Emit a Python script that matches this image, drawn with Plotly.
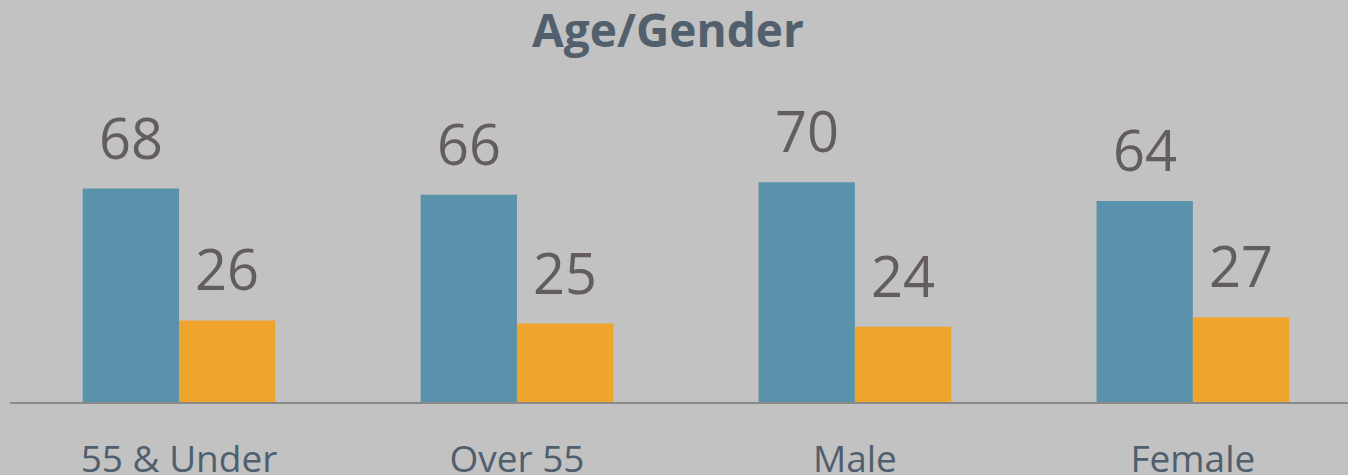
import plotly.graph_objects as go

categories = ["55 & Under", "Over 55", "Male", "Female"]
series_a = [68, 66, 70, 64]
series_b = [26, 25, 24, 27]

blue = "#5a92ab"
orange = "#efa42d"
label_color = "#645d5e"
tick_color = "#505f6e"
bg = "#c2c2c2"

fig = go.Figure()
fig.add_trace(go.Bar(x=categories, y=series_a, marker_color=blue, marker_line_width=0, name="A"))
fig.add_trace(go.Bar(x=categories, y=series_b, marker_color=orange, marker_line_width=0, name="B"))

for cat, v in zip(categories, series_a):
    fig.add_annotation(x=cat, y=v, text=str(v), showarrow=False, xshift=-48, yshift=12,
                       yanchor="bottom", font=dict(size=56, color=label_color, family="Open Sans"))
for cat, v in zip(categories, series_b):
    fig.add_annotation(x=cat, y=v, text=str(v), showarrow=False, xshift=48, yshift=12,
                       yanchor="bottom", font=dict(size=56, color=label_color, family="Open Sans"))

fig.update_layout(
    width=1348, height=475,
    margin=dict(l=10, r=0, t=100, b=73, autoexpand=False),
    paper_bgcolor=bg, plot_bgcolor=bg,
    barmode="group", bargap=0.43, bargroupgap=0,
    showlegend=False,
    title=dict(text="<b>Age/Gender</b>", x=0.4955, xanchor="center", y=0.935, yanchor="middle",
               font=dict(size=46, color="#525f6d", family="Open Sans")),
    xaxis=dict(range=[-0.5, 3.459], showline=True, linecolor="#8a8a8a", linewidth=2,
               automargin=False,
               ticks="outside", ticklen=24, tickcolor="rgba(0,0,0,0)",
               tickfont=dict(size=37, color=tick_color, family="Open Sans"), showgrid=False),
    yaxis=dict(range=[0, 96.2], visible=False, showgrid=False, zeroline=False),
)

fig.write_html("out.html", config={"displayModeBar": False},
               post_script="document.body.style.margin='0';document.body.style.overflow='hidden';")
